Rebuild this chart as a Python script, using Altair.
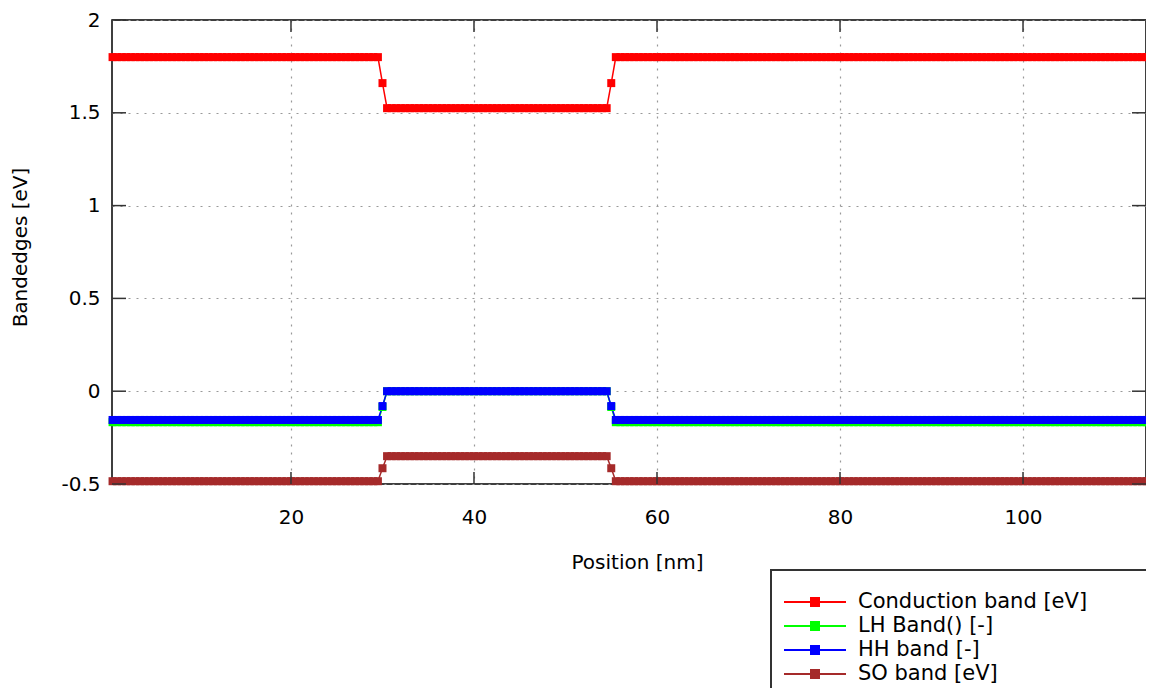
import altair as alt
import pandas as pd

# ---- data ----
bands = ["Conduction band [eV]", "LH Band() [-]", "HH band [-]", "SO band [eV]"]
colors = ["#ff0000", "#00ff00", "#0000ff", "#a52a2a"]
barrier_level = [1.80, -0.167, -0.155, -0.485]     # outside the well
interface_level = [1.66, -0.085, -0.08, -0.415]     # single mesh point at each interface
well_level = [1.525, 0.0, 0.0, -0.35]               # inside the well
interfaces = [30.0, 55.0]                            # interface positions [nm]
mesh_step = 0.5
mesh_start = 0.5
mesh_end = 114.0

x_ticks = [20, 40, 60, 80, 100]
y_ticks = [-0.5, 0, 0.5, 1, 1.5, 2]
x_domain = [0.44, 113.44]
y_domain = [-0.5, 2]

# ---- build table ----
n = int(round((mesh_end - mesh_start) / mesh_step)) + 1
positions = [round(mesh_start + i * mesh_step, 2) for i in range(n)]
rows = []
for b, name in enumerate(bands):
    for p in positions:
        if p in interfaces:
            v = interface_level[b]
        elif interfaces[0] < p < interfaces[1]:
            v = well_level[b]
        else:
            v = barrier_level[b]
        rows.append({"pos": p, "energy": v, "band": name, "k": b})
df = pd.DataFrame(rows)

W, H = 1034, 464
FONT = "DejaVu Sans"

sym_path = "M-3.1,0H3.1M-0.4,-0.4H0.4V0.4H-0.4Z"

legend = alt.Legend(
    title=None,
    orient="none",
    legendX=659,
    legendY=550,
    symbolType=sym_path,
    symbolSize=400,
    symbolStrokeWidth=2,
    symbolOffset=12,
    labelOffset=32,
    labelFont=FONT,
    labelFontSize=21,
    labelColor="#000000",
    labelLimit=0,
    labelExpr="datum.label + '" + "\u2800" * 4 + "'",
    rowPadding=3,
    padding=21,
    strokeColor="#333333",
    fillColor="#ffffff",
    symbolOpacity=1,
)

color = alt.Color("band:N", scale=alt.Scale(domain=bands, range=colors), legend=legend)

xenc = alt.X(
    "pos:Q",
    scale=alt.Scale(domain=x_domain, nice=False, zero=False),
    axis=alt.Axis(
        values=x_ticks, title="Position [nm]", ticks=False, domain=False,
        labelPadding=23, titleX=525, titleY=78, titleBaseline="middle",
        grid=True, gridDash=[2, 6], gridColor="#999999", gridWidth=1.2,
    ),
)
yenc = alt.Y(
    "energy:Q",
    scale=alt.Scale(domain=y_domain, nice=False, zero=False),
    axis=alt.Axis(
        values=y_ticks, title="Bandedges [eV]", ticks=False, domain=False,
        labelPadding=12,
        labelExpr="datum.value < 0 ? '-' + format(-datum.value, '~g') : format(datum.value, '~g')",
        titleX=-92, titleY=227, titleAngle=270, titleBaseline="middle", titleAlign="center",
        grid=True, gridDash=[2, 6], gridColor="#999999", gridWidth=1.2,
    ),
)

base = alt.Chart(df)
lines = base.mark_line(strokeWidth=1.5).encode(
    x=xenc, y=yenc, color=color, detail="band:N"
)
points = base.mark_square(size=64, filled=True, opacity=1).encode(
    x="pos:Q", y="energy:Q", color=color, order="k:Q"
)

xt = pd.DataFrame({"pos": x_ticks})
yt = pd.DataFrame({"energy": y_ticks})
tick_style = dict(color="#333333", strokeWidth=1.5)
tick_len = 12
ticks_bottom = alt.Chart(xt).mark_rule(**tick_style).encode(
    x="pos:Q", y=alt.value(H - tick_len), y2=alt.value(H))
ticks_top = alt.Chart(xt).mark_rule(**tick_style).encode(
    x="pos:Q", y=alt.value(0), y2=alt.value(tick_len))
ticks_left = alt.Chart(yt).mark_rule(**tick_style).encode(
    y="energy:Q", x=alt.value(0), x2=alt.value(tick_len + 2))
ticks_right = alt.Chart(yt).mark_rule(**tick_style).encode(
    y="energy:Q", x=alt.value(W - tick_len - 2), x2=alt.value(W))

chart = alt.layer(
    lines, points, ticks_bottom, ticks_top, ticks_left, ticks_right
).properties(
    width=W,
    height=H,
    autosize=alt.AutoSizeParams(type="none"),
    padding={"left": 104, "top": 12, "right": 0, "bottom": 204},
    background="#ffffff",
).configure_view(
    stroke="#000000", strokeWidth=1.5
).configure_axis(
    labelFont=FONT, labelFontSize=20, labelColor="#000000",
    titleFont=FONT, titleFontSize=20, titleColor="#000000", titleFontWeight="normal",
).configure_legend(
    strokeWidth=2
)

chart.save("out.html", embed_options={"renderer": "svg", "actions": False})
